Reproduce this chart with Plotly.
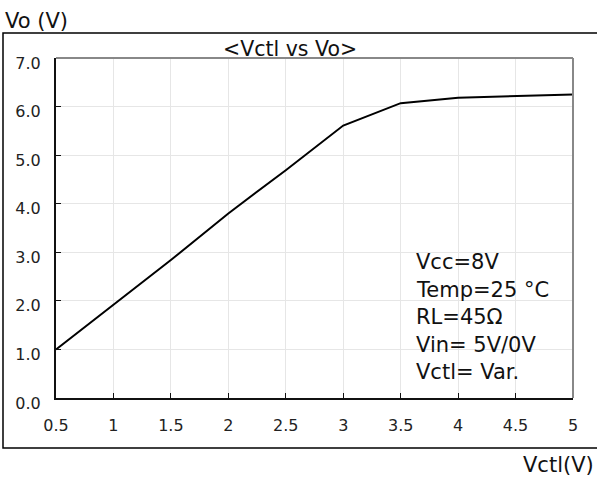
import plotly.graph_objects as go

vctl = [0.5, 1.0, 1.5, 2.0, 2.5, 3.0, 3.5, 4.0, 4.5, 5.0]
vo = [1.0, 1.92, 2.84, 3.80, 4.69, 5.61, 6.07, 6.18, 6.21, 6.25]
x_ticks = [0.5, 1, 1.5, 2, 2.5, 3, 3.5, 4, 4.5, 5]
x_labels = ["0.5", "1", "1.5", "2", "2.5", "3", "3.5", "4", "4.5", "5"]
y_ticks = [0, 1, 2, 3, 4, 5, 6, 7]
y_labels = ["0.0", "1.0", "2.0", "3.0", "4.0", "5.0", "6.0", "7.0"]
conditions = ["Vcc=8V", "Temp=25 °C", "RL=45Ω", "Vin= 5V/0V", "Vctl= Var."]

W, H = 597, 478
SL, SR, ST, SB = 56, 573, 58, 398          # plot area in screen px
L, R, T, B = SL, W - SR, ST, H - SB
pw, ph = W - L - R, H - T - B

def px(sx):
    return (sx - L) / pw

def py(sy):
    return (H - B - sy) / ph

font = "DejaVu Sans, Verdana, sans-serif"

fig = go.Figure()
fig.add_trace(go.Scatter(x=vctl, y=vo, mode="lines", hoverinfo="skip",
                         line=dict(color="black", width=2), showlegend=False))

fig.update_layout(
    width=W, height=H,
    margin=dict(l=L, r=R, t=T, b=B, autoexpand=False),
    plot_bgcolor="white", paper_bgcolor="white",
    font=dict(family=font, color="#222"),
    xaxis=dict(range=[0.5, 5], tickvals=x_ticks, ticktext=x_labels,
               showgrid=True, gridcolor="#e6e6e6", gridwidth=1,
               showline=True, linecolor="#111", linewidth=2,
               ticks="inside", ticklen=5, tickcolor="#111",
               ticklabelstandoff=12, automargin=False,
               tickfont=dict(size=16, family=font, color="#222"),
               zeroline=False, fixedrange=True),
    yaxis=dict(range=[0, 7], tickvals=y_ticks, ticktext=y_labels,
               showgrid=True, gridcolor="#e6e6e6", gridwidth=1,
               showline=True, linecolor="#111", linewidth=2,
               ticks="inside", ticklen=5, tickcolor="#111",
               ticklabelstandoff=10, ticklabelshift=5, automargin=False,
               tickfont=dict(size=16, family=font, color="#222"),
               zeroline=False, fixedrange=True),
)

shapes = [
    dict(type="line", xref="paper", yref="paper", x0=0, x1=1, y0=1, y1=1,
         line=dict(color="#888", width=2), layer="above"),
    dict(type="line", xref="paper", yref="paper", x0=1, x1=1, y0=0, y1=1,
         line=dict(color="#888", width=2), layer="above"),
    dict(type="rect", xref="paper", yref="paper",
         x0=px(3), x1=px(610), y0=py(448), y1=py(33),
         line=dict(color="black", width=1.5), layer="below"),
]
fig.update_layout(shapes=shapes)

anns = [
    dict(text="&lt;Vctl vs Vo&gt;", x=px(290), y=py(49), xref="paper", yref="paper",
         showarrow=False, xanchor="center", yanchor="middle",
         font=dict(size=20.5, family=font, color="#111")),
    dict(text="Vo (V)", x=px(3), y=py(21), xref="paper", yref="paper",
         showarrow=False, xanchor="left", yanchor="middle",
         font=dict(size=21, family=font, color="#111")),
    dict(text="Vctl(V)", x=px(596), y=py(465), xref="paper", yref="paper",
         showarrow=False, xanchor="right", yanchor="middle",
         font=dict(size=21, family=font, color="#111")),
]
cond_y = [262, 289.5, 317, 345, 372]
for t, yy in zip(conditions, cond_y):
    anns.append(dict(text=t, x=px(414), y=py(yy), xref="paper", yref="paper",
                     showarrow=False, xanchor="left", yanchor="middle",
                     font=dict(size=21, family=font, color="#111")))
fig.update_layout(annotations=anns)

fig.write_html("out.html",
               config={"displayModeBar": False, "staticPlot": True},
               post_script="document.body.style.margin='0';document.body.style.overflow='hidden';")
